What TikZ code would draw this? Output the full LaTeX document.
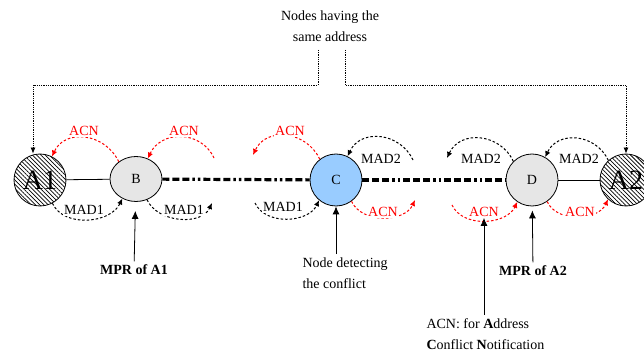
\documentclass[tikz,border=0pt]{standalone}
\usepackage{fontspec}
\setmainfont{Liberation Serif}
\usetikzlibrary{shapes.geometric,arrows.meta,patterns.meta}
\definecolor{cblue}{RGB}{153,204,255}
\definecolor{cgray}{RGB}{230,230,230}

\begin{document}
\begin{tikzpicture}[x=1pt, y=1pt,
  every node/.style={font=\fontsize{14}{21}\selectfont},
  host/.style={draw, circle, minimum size=52pt, inner sep=0pt, line width=0.8pt},
  dup/.style={host, pattern={Lines[angle=-45,distance=3pt,line width=0.8pt]}, font=\fontsize{28}{30}\selectfont},
  link/.style={line width=0.8pt},
  hop/.style={line width=3.2pt, dash pattern=on 7pt off 3pt on 7pt off 3pt on 7pt off 3pt on 2.5pt off 3pt on 2.5pt off 3pt},
  msg/.style={line width=1pt, dash pattern=on 2.5pt off 2pt, -{Latex[length=6pt,width=5.5pt]}},
  acn/.style={msg, red},
  lbl/.style={fill=white, inner sep=1pt},
  ptr/.style={line width=0.8pt, -{Latex[length=8pt,width=7pt]}},
  tip/.style={densely dotted, line width=0.8pt, -{Latex[length=6pt,width=5pt]}}]
  \useasboundingbox (0,0) rectangle (644,356);

  % Nodes on the chain
  \node[dup] (A1) at (40,176) {A1};
  \node[draw, ellipse, minimum width=52pt, minimum height=45pt, inner sep=0pt, line width=0.8pt, fill=cgray] (B) at (136,177) {B};
  \node[host, fill=cblue] (C) at (336,176) {C};
  \node[host, fill=cgray] (D) at (532,176) {D};
  \node[dup] (A2) at (626,176) {A2};

  \draw[link] (A1) -- (B);
  \draw[hop] (B) -- (C);
  \draw[hop] (C) -- (D);
  \draw[link] (D) -- (A2);

  % Nodes having the same address
  \node[align=center] (same) at (330,330) {Nodes having the\\same address};
  \coordinate (tL) at (318,306);
  \coordinate (tR) at (345,306);
  \draw[tip] (tL) -- ++(0,-35) -| ([xshift=-7pt]A1.north);
  \draw[tip] (tR) -- ++(0,-35) -| (A2.north);

  % Free ends of the messages
  \coordinate (bR1) at (214,198);
  \coordinate (bR2) at (212,153);
  \coordinate (cL1) at (253,201);
  \coordinate (cL2) at (255,153);
  \coordinate (cR1) at (413,196);
  \coordinate (cR2) at (415,156);
  \coordinate (dL1) at (447,198);
  \coordinate (dL2) at (452,151);

  % Messages above
  \draw[acn] (B.135) to[out=115,in=65,looseness=1.2] (A1.63);
  \draw[acn] (bR1) to[out=115,in=65,looseness=1.2] (B.60);
  \draw[acn] (C.128) to[out=115,in=65,looseness=1.2] (cL1);
  \draw[msg] (cR1) to[out=115,in=65,looseness=1.2] (C.64);
  \draw[msg] (D.135) to[out=115,in=65,looseness=1.2] (dL1);
  \draw[msg] (A2.132) to[out=115,in=65,looseness=1.2] (D.60);

  % Messages below
  \draw[msg] (A1.-62) to[out=-65,in=-115] (B.-125);
  \draw[msg] (B.-62) to[out=-65,in=-115] (bR2);
  \draw[msg] (cL2) to[out=-65,in=-115] (C.-130);
  \draw[acn] (C.-54) to[out=-65,in=-115] (cR2);
  \draw[acn] (dL2) to[out=-65,in=-115] (D.-124);
  \draw[acn] (D.-55) to[out=-65,in=-115] (A2.-133);

  % Message labels
  \node[lbl, text=red] (lAcnA) at (84,225) {ACN};
  \node[lbl, text=red] (lAcnB) at (184,225) {ACN};
  \node[lbl, text=red] (lAcnC) at (290,225) {ACN};
  \node[lbl] (lMadC) at (381,197) {MAD2};
  \node[lbl] (lMadD1) at (481,197) {MAD2};
  \node[lbl] (lMadD2) at (579,197) {MAD2};
  \node[lbl] (lMadA) at (84,146) {MAD1};
  \node[lbl] (lMadB) at (184,146) {MAD1};
  \node[lbl] (lMadC1) at (283,149) {MAD1};
  \node[lbl, text=red] (lAcnC2) at (383,144) {ACN};
  \node[lbl, text=red] (lAcnD1) at (484,144) {ACN};
  \node[lbl, text=red] (lAcnD2) at (580,144) {ACN};

  % Pointers from below
  \node (mpr1) at (134,86) {\textbf{MPR of A1}};
  \draw[ptr, shorten >=9pt] (mpr1) -- (B);
  \node[align=left, anchor=west] (det) at (299,83) {Node detecting\\the conflict};
  \draw[ptr] (det.north -| C) -- (C);
  \node (mpr2) at (533,85) {\textbf{MPR of A2}};
  \draw[ptr, shorten >=4pt] (mpr2) -- (D);
  \node[align=left, anchor=west] (note) at (423,22) {ACN: for \textbf{A}ddress\\\textbf{C}onflict \textbf{N}otification};
  \draw[ptr] (note.north -| lAcnD1) -- (lAcnD1);
\end{tikzpicture}
\end{document}
